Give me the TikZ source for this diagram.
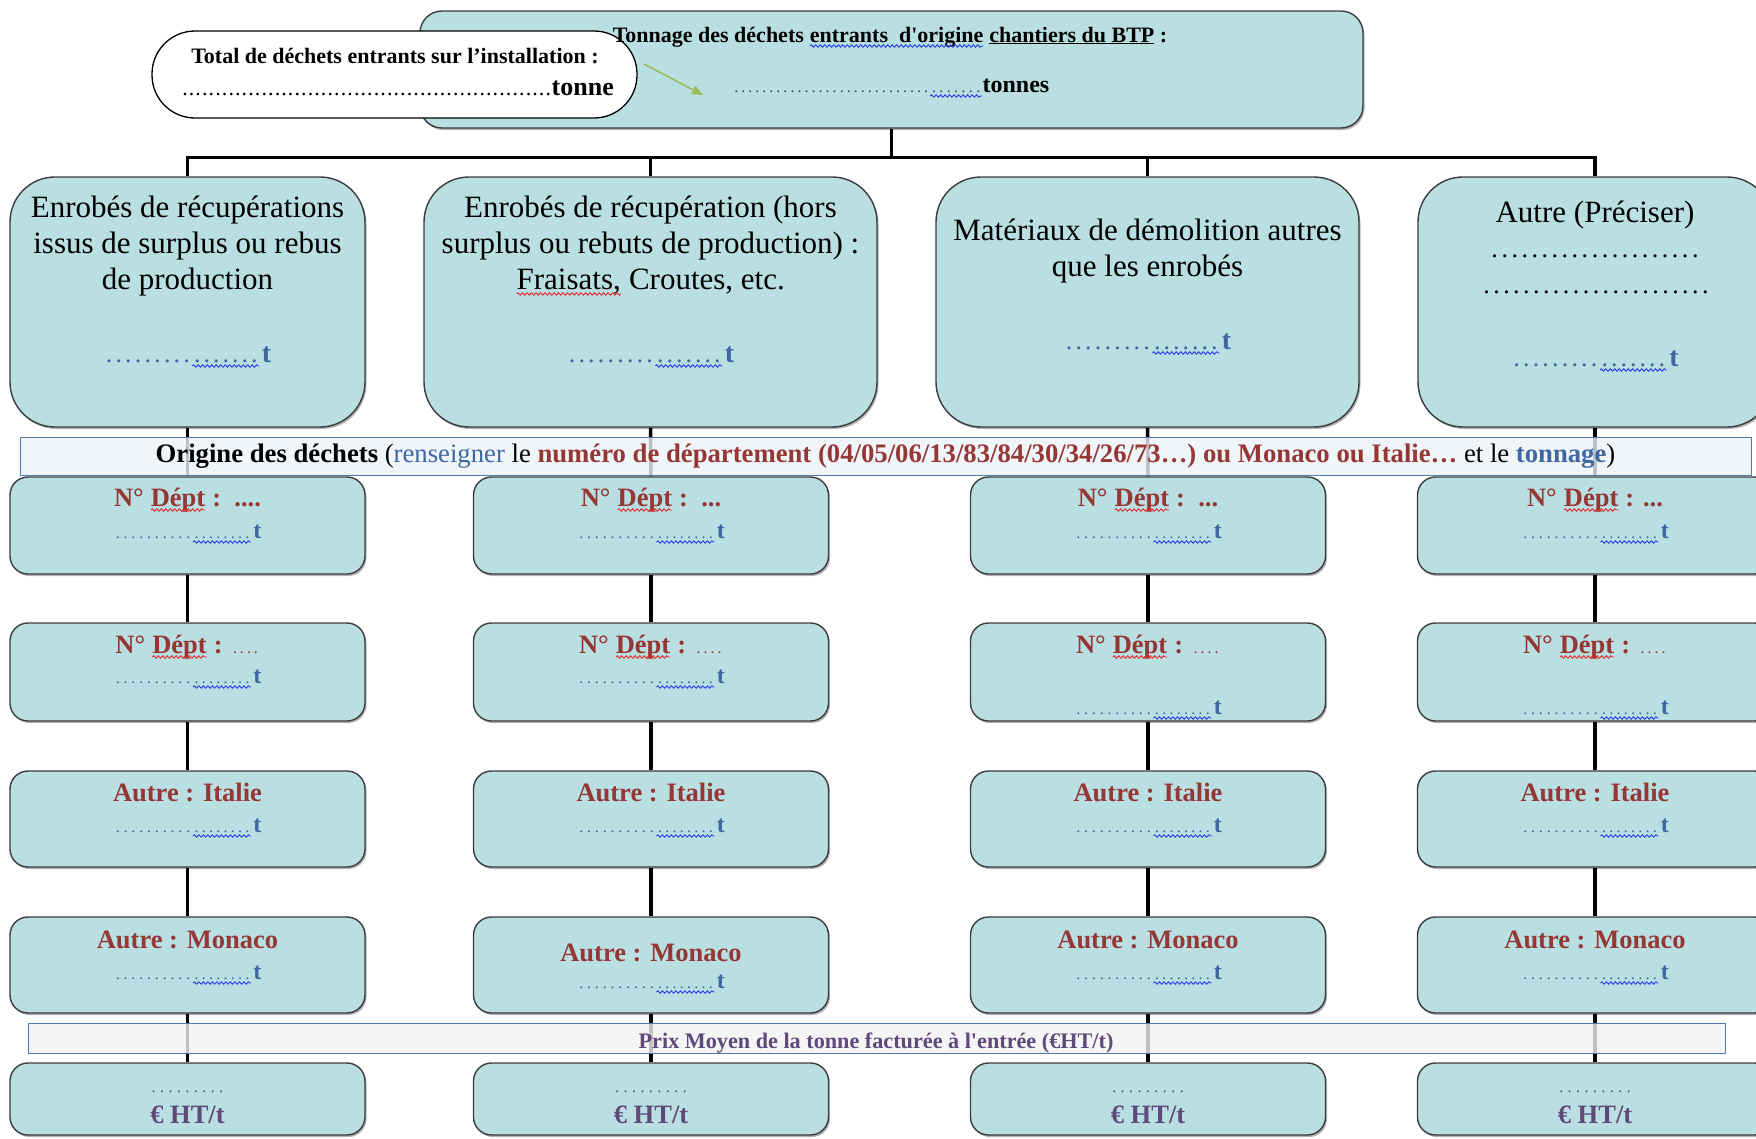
\documentclass[tikz,border=0pt]{standalone}
\usepackage{fontspec}
\setmainfont{Liberation Serif}
\usetikzlibrary{arrows.meta,backgrounds,shadows,decorations.pathmorphing}

\definecolor{boxfill}{RGB}{185,223,226}
\definecolor{boxline}{RGB}{60,60,60}
\definecolor{dred}{RGB}{149,55,53}
\definecolor{tblue}{RGB}{63,103,160}
\definecolor{wblue}{RGB}{40,60,235}
\definecolor{wred}{RGB}{230,40,40}
\definecolor{purp}{RGB}{95,73,122}
\definecolor{bandline}{RGB}{79,120,180}
\definecolor{bandfill}{RGB}{236,242,249}
\definecolor{prixfill}{RGB}{242,242,242}
\definecolor{arrowgreen}{RGB}{155,187,89}
\definecolor{dotgray}{RGB}{70,70,70}

% font size helper
\newcommand\fsz[2]{\fontsize{#1}{#2}\selectfont}
% a run of leader dots: glyph, pitch (pt), total width (pt)
\newcommand\lead[3]{\hbox to #3pt{\xleaders\hbox to #2pt{\hss#1\hss}\hfill}}
% wavy underline: wave colour, text colour, text
\newcommand\wv[3]{\tikz[baseline=(wvt.base)]{%
  \node[inner sep=0pt, outer sep=0pt, anchor=base, draw=none, fill=none, text=#2] (wvt) at (0,0) {#3};%
  \draw[#1, line width=0.9pt, decorate, decoration={snake, amplitude=1.2pt, segment length=4.5pt}]
    ([yshift=-4pt]wvt.base west) -- ([yshift=-4pt]wvt.base east);}}
% straight apostrophe
\newcommand\sq{\textquotesingle}
% tonnage field of a main category box
\newcommand\tonA{{\fsz{26}{26}\color{tblue}\lead{.}{9}{88}\wv{wblue}{tblue}{\lead{.}{9}{67}}\hspace{2pt}{\bfseries\fsz{28}{28}t}}}
% tonnage field of an origin box
\newcommand\tonB{{\fsz{16}{16}\color{tblue}\lead{.}{7.2}{79}\wv{wblue}{tblue}{\lead{.}{7.2}{58}}\hspace{2pt}{\bfseries\fsz{24}{24}t}}}
\newcommand\dept{N° \wv{wred}{dred}{Dépt}}
\newcommand\thindots{{\mdseries\fsz{16}{16}\lead{.}{7}{28}}}

\tikzset{
  shade box/.style={drop shadow={shadow xshift=1.5pt, shadow yshift=-2pt, opacity=0.3, fill=black}},
  lvlone/.style={draw=boxline, line width=1.4pt, fill=boxfill, rounded corners=45pt,
    minimum height=250pt, inner sep=0pt, shade box},
  rowbox/.style={draw=boxline, line width=1.4pt, fill=boxfill, rounded corners=18pt,
    minimum width=355pt, inner sep=0pt, shade box},
  conn/.style={line width=3.5pt, black},
  hdr/.style={font=\fsz{31}{36}, align=center, inner sep=0pt},
  rtitle/.style={font=\bfseries\fsz{26.5}{26.5}, text=dred, anchor=base, inner sep=0pt},
  fld/.style={anchor=base, inner sep=0pt},
  band/.style={draw=bandline, line width=1pt, fill opacity=0.8, text opacity=1, inner sep=0pt},
}

\begin{document}
\begin{tikzpicture}[x=1pt, y=-1pt]
\useasboundingbox (0,0) rectangle (1756,1138);

% ---- header: total and BTP tonnage
\node[draw=boxline, line width=1.4pt, fill=boxfill, rounded corners=22pt, shade box,
      minimum width=943pt, minimum height=117pt, inner sep=0pt] (top) at (891.5,69.5) {};
\node[draw=black, line width=1.3pt, fill=white, rounded corners=43pt,
      minimum width=485pt, minimum height=87pt, inner sep=0pt] (tot) at (394.5,74.5) {};
\node[anchor=base, inner sep=0pt, font=\bfseries\fsz{22}{22}] (tott) at (395,63)
  {Total de déchets entrants sur l’installation :};
\node[anchor=base east, inner sep=0pt] (totv) at (614,95)
  {{\fsz{22}{22}\lead{.}{6.5}{370}}{\bfseries\fsz{26}{26}tonne}};
\node[anchor=base, inner sep=0pt, font=\bfseries\fsz{22}{22}] (topt) at (890,42)
  {Tonnage des déchets \wv{wblue}{black}{entrants\ \ d\sq origine} \underline{chantiers du BTP} :};
\node[anchor=base, inner sep=0pt] (topv) at (891,92)
  {{\fsz{16}{16}\color{dotgray}\lead{.}{7}{197}}\wv{wblue}{dotgray}{\fsz{16}{16}\lead{.}{7}{52}}{\bfseries\fsz{24}{24}tonnes}};
\coordinate (ga1) at (644,64);
\coordinate (ga2) at (703,95);
\draw[arrowgreen, line width=1.5pt, -{Triangle[length=11pt,width=9pt]}] (ga1) -- (ga2);

% ---- waste categories
\node[lvlone, minimum width=355pt] (b1) at (187.5,302) {};
\node[lvlone, minimum width=453pt] (b2) at (650.5,302) {};
\node[lvlone, minimum width=423pt] (b3) at (1147.5,302) {};
\node[lvlone, minimum width=354pt] (b4) at (1595,302) {};

\node[hdr] (b1t) at (187.5,246) {Enrobés de récupérations\\issus de surplus ou rebus\\de production};
\node[hdr] (b2t) at (650.5,246) {Enrobés de récupération (hors\\surplus ou rebuts de production) :\\\wv{wred}{black}{Fraisats,} Croutes, etc.};
\node[hdr] (b3t) at (1147.5,251.5) {Matériaux de démolition autres\\que les enrobés};
\node[hdr, anchor=base] (b4t) at (1595,222) {Autre (Préciser)};
\node[fld, font=\fsz{26}{26}] (b4d1) at (1595,257) {\lead{.}{9.6}{211}};
\node[fld, font=\fsz{26}{26}] (b4d2) at (1596,293) {\lead{.}{9.6}{229}};

\node[fld] (b1v) at (187.5,362) {\tonA};
\node[fld] (b2v) at (650.5,362) {\tonA};
\node[fld] (b3v) at (1147.5,349) {\tonA};
\node[fld] (b4v) at (1595,366) {\tonA};

% ---- origin boxes, one column per category
\foreach \i/\x in {1/187.5,2/651,3/1148,4/1595}{
  \node[rowbox, minimum height=97pt] (a\i) at (\x,525.5) {};
  \node[rowbox, minimum height=98pt] (r\i) at (\x,672) {};
  \node[rowbox, minimum height=96pt] (c\i) at (\x,819) {};
  \node[rowbox, minimum height=96pt] (d\i) at (\x,965) {};
  \node[rowbox, minimum height=72pt] (e\i) at (\x,1099) {};
  \node[fld] (av\i) at (\x,538) {\tonB};
  \node[rtitle] (ct\i) at (\x,801) {Autre : Italie};
  \node[fld] (cv\i) at (\x,832) {\tonB};
  \node[fld, font=\fsz{16}{16}, text=purp] (ed\i) at (\x,1092) {\lead{.}{8.4}{76}};
  \node[rtitle, text=purp] (ep\i) at (\x,1123) {€ HT/t};
}
\node[rtitle] (at1) at (187.5,506) {\dept{} :\ \ ....};
\node[rtitle] (at2) at (651,506) {\dept{} :\ \ ...};
\node[rtitle] (at3) at (1148,506) {\dept{} :\ \ ...};
\node[rtitle] (at4) at (1595,506) {\dept{} : ...};

\foreach \i/\x in {1/187.5,2/651,3/1148,4/1595}{
  \node[rtitle] (rt\i) at (\x,653) {\dept{} : \thindots};
}
\node[fld] (rv1) at (187.5,683) {\tonB};
\node[fld] (rv2) at (651,683) {\tonB};
\node[fld] (rv3) at (1148,714) {\tonB};
\node[fld] (rv4) at (1595,714) {\tonB};

\node[rtitle] (dt1) at (187.5,948) {Autre : Monaco};
\node[rtitle] (dt2) at (651,961) {Autre : Monaco};
\node[rtitle] (dt3) at (1148,948) {Autre : Monaco};
\node[rtitle] (dt4) at (1595,948) {Autre : Monaco};
\node[fld] (dv1) at (187.5,979) {\tonB};
\node[fld] (dv2) at (651,988) {\tonB};
\node[fld] (dv3) at (1148,979) {\tonB};
\node[fld] (dv4) at (1595,979) {\tonB};

% ---- explanatory bands
\node[band, fill=bandfill, minimum width=1731pt, minimum height=38pt,
      font=\fsz{26.7}{26.7}] (orig) at (885.5,456)
  {\textbf{Origine des déchets} (\textcolor{tblue}{renseigner} le
   \textcolor{dred}{\textbf{numéro de département (04/05/06/13/83/84/30/34/26/73…) ou Monaco ou Italie…}}
   et le \textcolor{tblue}{\textbf{tonnage}})};
\node[band, fill=prixfill, minimum width=1697pt, minimum height=30pt] (prix) at (876.5,1038) {};
\node[anchor=base, inner sep=0pt, font=\bfseries\fsz{22.2}{22.2}, text=purp] (prixt) at (876,1048)
  {Prix Moyen de la tonne facturée à l\sq entrée (€HT/t)};

% ---- connectors
\begin{scope}[on background layer]
  \path (top.south) ++(0,29) coordinate (bus);
  \draw[conn] (top.south) -- (bus);
  \draw[conn] (b1.north) |- (bus) -| (b4.north);
  \draw[conn] (b2.north) -- (b2.north |- bus);
  \draw[conn] (b3.north) -- (b3.north |- bus);
  \foreach \i in {1,2,3,4}{
    \draw[conn] (b\i.south) -- (a\i.north);
    \draw[conn] (a\i.south) -- (r\i.north);
    \draw[conn] (r\i.south) -- (c\i.north);
    \draw[conn] (c\i.south) -- (d\i.north);
    \draw[conn] (d\i.south) -- (e\i.north);
  }
\end{scope}
\end{tikzpicture}
\end{document}
